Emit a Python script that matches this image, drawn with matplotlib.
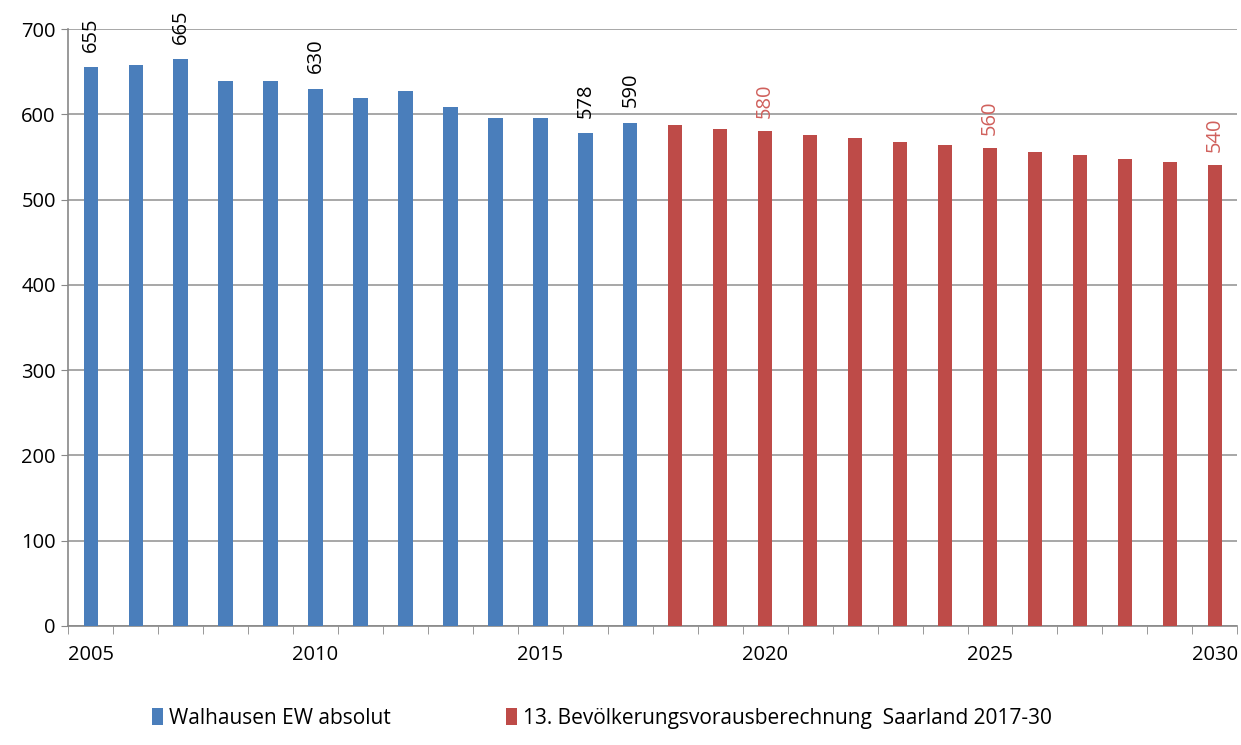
import numpy as np
from matplotlib import pyplot as plt

plt.rcParams['font.family'] = ['Open Sans', 'DejaVu Sans']

# data
years_ist = [2005, 2006, 2007, 2008, 2009, 2010, 2011, 2012, 2013, 2014, 2015, 2016, 2017]
ew_ist = [655, 658, 665, 639, 639, 630, 619, 627, 608, 596, 596, 578, 590]
years_prog = [2018, 2019, 2020, 2021, 2022, 2023, 2024, 2025, 2026, 2027, 2028, 2029, 2030]
ew_prog = [587, 583, 580, 576, 572, 568, 564, 560, 556, 552, 548, 544, 540]
labels_ist = [2005, 2007, 2010, 2016, 2017]
labels_prog = [2020, 2025, 2030]

blue = '#4a7ebb'
red = '#be4b48'

fig = plt.figure(figsize=(12.41, 7.45), dpi=100)
ax = fig.add_axes([0.055, 0.16, 0.942, 0.801])

b1 = ax.bar(years_ist, ew_ist, width=0.32, color=blue, zorder=3, label='Walhausen EW absolut')
b2 = ax.bar(years_prog, ew_prog, width=0.32, color=red, zorder=3,
            label='13. Bevölkerungsvorausberechnung  Saarland 2017-30')

for y, v in zip(years_ist, ew_ist):
    if y in labels_ist:
        ax.text(y, v + 18, str(v), rotation=90, ha='center', va='bottom', fontsize=14.5, color='black', zorder=4)
for y, v in zip(years_prog, ew_prog):
    if y in labels_prog:
        ax.text(y, v + 16, str(v), rotation=90, ha='center', va='bottom', fontsize=14.5, color='#d0605c', zorder=4)

ax.set_ylim(0, 700)
ax.set_xlim(2004.5, 2030.5)
ax.set_yticks(np.arange(0, 701, 100))
ax.set_xticks([2005, 2010, 2015, 2020, 2025, 2030])
ax.set_xticks(np.arange(2004.5, 2031, 1), minor=True)
ax.tick_params(axis='x', which='major', length=0, labelsize=14.5, pad=14)
ax.tick_params(axis='x', which='minor', length=6, color='#888888', direction='out')
ax.tick_params(axis='y', length=5, color='#888888', labelsize=14.5, pad=4, direction='out')
ax.yaxis.grid(True, color='#a0a0a0', linewidth=1.3, zorder=0)
for s in ['top', 'right']:
    ax.spines[s].set_visible(False)
ax.spines['left'].set_color('#888888')
ax.spines['bottom'].set_color('#888888')
ax.spines['left'].set_linewidth(1.2)
ax.spines['bottom'].set_linewidth(1.2)

fig.legend(handles=[b1, b2], loc='center', bbox_to_anchor=(0.485, 0.036), ncol=2, frameon=False,
           fontsize=15, handlelength=0.55, handleheight=0.9, handletextpad=0.3, columnspacing=5.5)

fig.savefig('out.png', dpi=100)
